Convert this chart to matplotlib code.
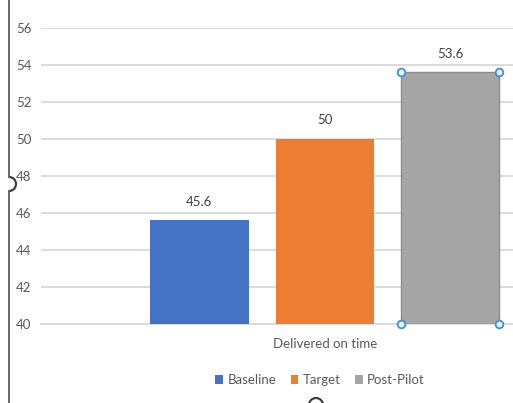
import numpy as np
import matplotlib
matplotlib.use("Agg")
import matplotlib.pyplot as plt
from matplotlib.patches import Patch, Arc
from matplotlib.lines import Line2D

# chart data
category = "Delivered on time"
series = ["Baseline", "Target", "Post-Pilot"]
values = [45.6, 50, 53.6]
colors = ["#4472C4", "#ED7D31", "#A5A5A5"]
y_ticks = [40, 42, 44, 46, 48, 50, 52, 54, 56]

plt.rcParams['font.family'] = ['Lato', 'DejaVu Sans']

W, H = 513, 403
fig = plt.figure(figsize=(W / 100, H / 100), dpi=100)

# plot area is cropped on the right in the reference
left_px, right_px, top_px, bot_px = 41, 609, 28, 324
ax = fig.add_axes([left_px / W, (H - bot_px) / H,
                   (right_px - left_px) / W, (bot_px - top_px) / H])

bar_w = 0.174
offsets = np.array([-0.221, 0.0, 0.220])
bars = ax.bar(offsets, np.array(values) - y_ticks[0], bottom=y_ticks[0],
              width=bar_w, color=colors, zorder=3)
bars[2].set_edgecolor("#8C8C8C")
bars[2].set_linewidth(1.0)

for b, v in zip(bars, values):
    ax.annotate(f"{v:g}", (b.get_x() + b.get_width() / 2, v),
                xytext=(0, 9), textcoords="offset points",
                ha="center", va="bottom", fontsize=9.5, color="#404040")

# selection handles on the last bar
sel = bars[2]
hx = [sel.get_x(), sel.get_x() + sel.get_width()]
hy = [y_ticks[0], values[2]]
for xx in hx:
    for yy in hy:
        ax.plot(xx, yy, "o", ms=5.5, mfc="#EAF3FB", mec="#3D8FE0",
                mew=1.3, zorder=5, clip_on=False)

ax.set_xlim(-0.5, 0.5)
ax.set_ylim(y_ticks[0], y_ticks[-1])
ax.set_yticks(y_ticks)
ax.set_xticks([])
ax.yaxis.grid(True, color="#D9D9D9", linewidth=1.3, zorder=0)
ax.tick_params(axis="y", length=0, pad=7, labelsize=9.5, labelcolor="#595959")
for s in ["top", "right", "left"]:
    ax.spines[s].set_visible(False)
ax.spines["bottom"].set_color("#D9D9D9")
ax.spines["bottom"].set_linewidth(1.3)

fig.text(325 / W, 1 - 344 / H, category, ha="center", va="center",
         fontsize=9.5, color="#595959")

handles = [Patch(facecolor=c, edgecolor="none") for c in colors]
fig.legend(handles, series, loc="center", bbox_to_anchor=(320 / W, 1 - 380 / H),
           ncol=3, frameon=False, fontsize=9.5, labelcolor="#595959",
           handlelength=0.6, handleheight=0.6, handletextpad=0.3,
           columnspacing=1.1)

# chart frame edge and resize handles on the left / bottom
px = fig.dpi_scale_trans
fig.add_artist(Line2D([0.09, 0.09], [0, (H - 191) / 100], color="#595959",
                      lw=1.3, transform=px))
fig.add_artist(Line2D([0.09, 0.09], [(H - 177) / 100, H / 100], color="#595959",
                      lw=1.3, transform=px))
fig.add_artist(Arc((0.09, (H - 184) / 100), 0.14, 0.14, theta1=-90, theta2=90,
                   color="#404040", lw=1.6, transform=px))
fig.add_artist(Arc((3.16, -0.02), 0.14, 0.14, theta1=0, theta2=180,
                   color="#404040", lw=1.6, transform=px))

fig.savefig("out.png", dpi=100)
